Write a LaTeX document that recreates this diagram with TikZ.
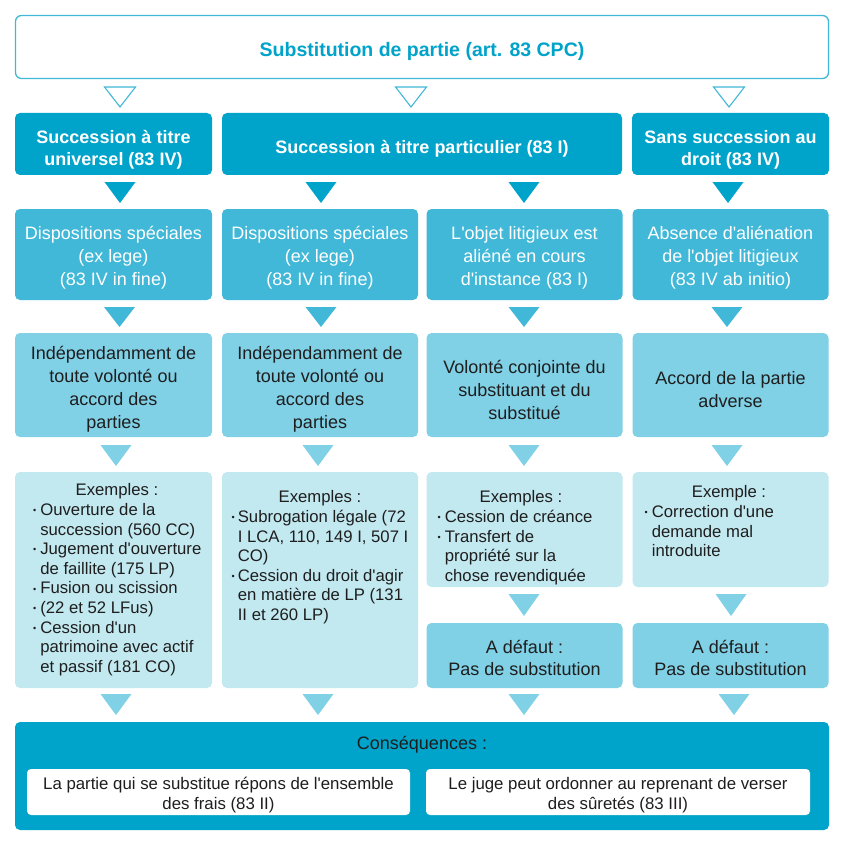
\documentclass[tikz,border=0pt]{standalone}
\usepackage{fontspec}
\setmainfont{Liberation Sans}[Ligatures=TeXOff]
\definecolor{cdark}{HTML}{00A3C9}
\definecolor{cmid}{HTML}{41B8D7}
\definecolor{clight}{HTML}{80D0E6}
\definecolor{cpale}{HTML}{C2E8F0}
\definecolor{ctext}{HTML}{1E1E1E}
\newcommand\fsz[2]{\fontsize{#1}{#2}\selectfont}
\newcommand\bul{\raisebox{1.8pt}{\fsz{9}{9}•}}
\newcommand\tridn[4]{\path[#1] (#2-15.5,#3) -- (#2+15.5,#3) -- (#2,#4) -- cycle;}
% box: style, width, height, centre, name, text, downward shift of text
\newcommand\bx[7]{%
  \node[#1, minimum width=#2pt, minimum height=#3pt] (#5) at (#4) {};
  \node[#1 text, yshift=-#7pt] (#5t) at (#5) {#6};}
\tikzset{
  box/.style={rounded corners=5pt, inner sep=0pt},
  btext/.style={inner sep=0pt, align=center},
  topbox/.style={box, draw=cmid, line width=1.3pt, fill=white, rounded corners=6pt},
  topbox text/.style={btext, text=cdark, font=\bfseries\fsz{19.5}{23}},
  headbox/.style={box, fill=cdark},
  headbox text/.style={btext, text=white, font=\bfseries\fsz{18}{22}},
  midbox/.style={box, fill=cmid},
  midbox text/.style={btext, text=white, font=\fsz{18}{23}},
  lightbox/.style={box, fill=clight},
  lightbox text/.style={btext, text=ctext, font=\fsz{18}{23}},
  defbox/.style={box, fill=clight},
  defbox text/.style={btext, text=ctext, font=\fsz{18}{22}},
  palebox/.style={box, fill=cpale},
  botbox/.style={box, fill=cdark},
  botbox text/.style={btext, text=ctext, font=\fsz{18}{22}},
  whitebox/.style={box, rounded corners=4pt, fill=white},
  whitebox text/.style={btext, text=ctext, font=\fsz{16.8}{20}},
  exhead/.style={inner sep=0pt, text=ctext, font=\fsz{16.7}{19.6}},
  exlist/.style={anchor=north west, inner sep=0pt, text=ctext, font=\fsz{16.7}{19.6}},
  trihollow/.style={draw=cmid, line width=1.1pt, fill=white, line join=miter},
  tridark/.style={fill=cdark},
  trimid/.style={fill=cmid},
  trilight/.style={fill=clight},
}
\begin{document}
\begin{tikzpicture}[x=1pt,y=-1pt]
\useasboundingbox (0,0) rectangle (845,845);
% top
\bx{topbox}{813}{63}{422,47}{top}{Substitution de partie (art. 83 CPC)}{4}
\tridn{trihollow}{120}{87}{107}
\tridn{trihollow}{411}{87}{107}
\tridn{trihollow}{729}{87}{107}
% row 2
\bx{headbox}{197}{62}{113.5,144}{h1}{Succession à titre\\universel (83 IV)}{6}
\bx{headbox}{400}{62}{422,144}{h2}{Succession à titre particulier (83 I)}{5}
\bx{headbox}{197}{62}{730.5,144}{h3}{Sans succession au\\droit (83 IV)}{6}
\tridn{tridark}{120}{182}{203}
\tridn{tridark}{321}{182}{203}
\tridn{tridark}{524}{182}{203}
\tridn{tridark}{728}{182}{203}
% row 3
\bx{midbox}{197}{91}{113.5,254.5}{m1}{Dispositions spéciales\\(ex lege)\\(83 IV in fine)}{3}
\bx{midbox}{196}{91}{320,254.5}{m2}{Dispositions spéciales\\(ex lege)\\(83 IV in fine)}{3}
\bx{midbox}{196}{91}{524.5,254.5}{m3}{L'objet litigieux est\\aliéné en cours\\d'instance (83 I)}{3}
\bx{midbox}{196}{91}{730.5,254.5}{m4}{Absence d'aliénation\\de l'objet litigieux\\(83 IV ab initio)}{3}
\tridn{trimid}{119.5}{307}{327}
\tridn{trimid}{321}{307}{327}
\tridn{trimid}{524}{307}{327}
\tridn{trimid}{727}{307}{327}
% row 4
\bx{lightbox}{197}{104}{113.5,385}{l1}{Indépendamment de\\toute volonté ou\\accord des\\parties}{4.5}
\bx{lightbox}{196}{104}{320,385}{l2}{Indépendamment de\\toute volonté ou\\accord des\\parties}{4.5}
\bx{lightbox}{196}{104}{524.5,385}{l3}{Volonté conjointe du\\substituant et du\\substitué}{4.5}
\bx{lightbox}{196}{104}{730.5,385}{l4}{Accord de la partie\\adverse}{4.5}
\tridn{trilight}{116}{445}{466}
\tridn{trilight}{318}{445}{466}
\tridn{trilight}{524}{445}{466}
\tridn{trilight}{727}{445}{466}
% row 5
\node[palebox, minimum width=197pt, minimum height=216pt] (p1) at (113.5,580) {};
\node[palebox, minimum width=196pt, minimum height=216pt] (p2) at (320,580) {};
\node[palebox, minimum width=196pt, minimum height=115pt] (p3) at (524.5,529.5) {};
\node[palebox, minimum width=196pt, minimum height=115pt] (p4) at (730.5,529.5) {};
\node[exhead] (p1h) at (117,491) {Exemples :};
\node[exhead] (p2h) at (320,498) {Exemples :};
\node[exhead] (p3h) at (521,498) {Exemples :};
\node[exhead] (p4h) at (729,493) {Exemple :};
\node[exlist] (p1l) at (33,501.5) {\begin{tabular}{@{}l@{\hspace{4pt}}l@{}}
\bul & Ouverture de la\\ & succession (560 CC)\\
\bul & Jugement d'ouverture\\ & de faillite (175 LP)\\
\bul & Fusion ou scission\\
\bul & (22 et 52 LFus)\\
\bul & Cession d'un\\ & patrimoine avec actif\\ & et passif (181 CO)
\end{tabular}};
\node[exlist] (p2l) at (231.5,508.5) {\begin{tabular}{@{}l@{\hspace{3pt}}l@{}}
\bul & Subrogation légale (72\\ & I LCA, 110, 149 I, 507 I\\ & CO)\\
\bul & Cession du droit d'agir\\ & en matière de LP (131\\ & II et 260 LP)
\end{tabular}};
\node[exlist] (p3l) at (437.5,508.5) {\begin{tabular}{@{}l@{\hspace{4pt}}l@{}}
\bul & Cession de créance\\
\bul & Transfert de\\ & propriété sur la\\ & chose revendiquée
\end{tabular}};
\node[exlist] (p4l) at (644.5,503.5) {\begin{tabular}{@{}l@{\hspace{4pt}}l@{}}
\bul & Correction d'une\\ & demande mal\\ & introduite
\end{tabular}};
\tridn{trilight}{524}{594}{616}
\tridn{trilight}{731}{594}{616}
% row 6
\bx{defbox}{196}{65}{524.5,655.5}{d3}{A défaut :\\Pas de substitution}{2.5}
\bx{defbox}{196}{65}{730.5,655.5}{d4}{A défaut :\\Pas de substitution}{2.5}
\tridn{trilight}{116}{694}{715}
\tridn{trilight}{318}{694}{715}
\tridn{trilight}{524}{694}{715}
\tridn{trilight}{734}{694}{715}
% bottom
\node[botbox, minimum width=814pt, minimum height=108pt] (bot) at (422,776) {};
\node[botbox text] (cons) at (422,745) {Conséquences :};
\bx{whitebox}{383}{46}{218.5,792}{bl}{La partie qui se substitue répons de l'ensemble\\des frais (83 II)}{3}
\bx{whitebox}{384}{46}{618,792}{br}{Le juge peut ordonner au reprenant de verser\\des sûretés (83 III)}{3}
\end{tikzpicture}
\end{document}
